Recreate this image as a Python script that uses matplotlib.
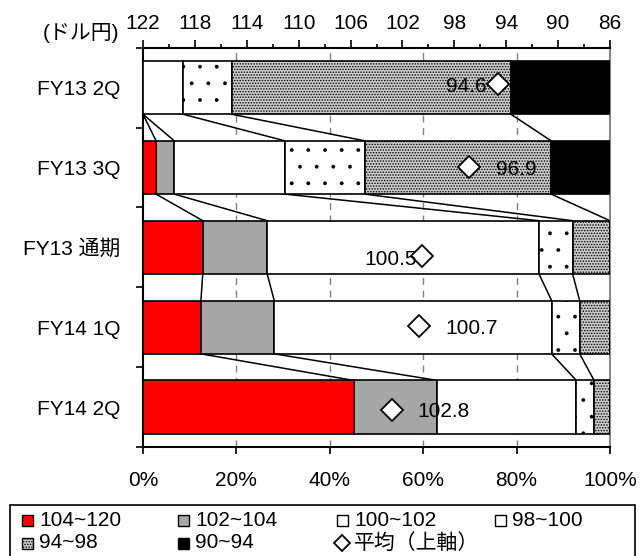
import matplotlib
matplotlib.use('agg')
import numpy as np
from matplotlib import pyplot
from matplotlib.patches import Rectangle
from matplotlib.lines import Line2D

pyplot.rcParams['font.family'] = ['Liberation Sans', 'Noto Sans CJK JP']
pyplot.rcParams['font.size'] = 15
pyplot.rcParams['hatch.linewidth'] = 0.3

# share of each rate band (%), per period
periods = ['FY13 2Q', 'FY13 3Q', 'FY13 通期', 'FY14 1Q', 'FY14 2Q']
bands = ['104~120', '102~104', '100~102', '98~100', '94~98', '90~94']
share_104_120 = [0.0, 2.8, 12.8, 12.4, 45.1]
share_102_104 = [0.0, 3.9, 13.8, 15.7, 17.9]
share_100_102 = [8.6, 23.7, 58.2, 59.4, 29.8]
share_98_100 = [10.4, 17.1, 7.2, 6.0, 3.8]
share_94_98 = [59.8, 39.9, 8.0, 6.5, 3.4]
share_90_94 = [21.2, 12.6, 0.0, 0.0, 0.0]
avg_rate = [94.6, 96.9, 100.5, 100.7, 102.8]
avg_label = ['94.6', '96.9', '100.5', '100.7', '102.8']
usd_ticks = [122, 118, 114, 110, 106, 102, 98, 94, 90, 86]

shares = [share_104_120, share_102_104, share_100_102, share_98_100, share_94_98, share_90_94]
faces = ['#ff0000', '#a6a6a6', 'white', 'white', '#cccccc', 'black']
hatches = [None, None, None, '.', '......', None]
hatch_lw = [0.3, 0.3, 0.3, 0.3, 0.7, 0.3]

# marker / label placement tweaks
avg_dy = [-0.04, 0.0, 0.11, -0.02, 0.04]
lbl_dx = [-8.6, 19.4, -3.6, 18.7, 18.4]
lbl_dy = [-1.2, -1.2, -2.2, -2.4, -1.0]
lbl_ha = ['right', 'left', 'right', 'left', 'left']

fig = pyplot.figure(figsize=(6.4, 5.56), dpi=100)
ax = fig.add_axes([143/640, 1-447/556, 467/640, 399.3/556])

y = np.arange(len(periods))
bar_h = 0.667
left = np.zeros(len(periods))
cums = []
for vals, face, hatch, hlw in zip(shares, faces, hatches, hatch_lw):
  with pyplot.rc_context({'hatch.linewidth': hlw}):
    ax.barh(y, vals, left=left, height=bar_h, color=face, edgecolor='black',
            linewidth=1.2, hatch=hatch, zorder=3)
  left = left + np.array(vals)
  cums.append(left.copy())

# series lines between neighbouring bars
for i in range(len(periods) - 1):
  for c in cums[:-1]:
    ax.plot([c[i], c[i+1]], [y[i] + bar_h/2, y[i+1] - bar_h/2],
            color='black', lw=1.1, zorder=2)

ax.set_xlim(0, 100)
ax.set_ylim(len(periods) - 0.5, -0.5)
ax.set_xticks(range(0, 101, 20))
ax.set_xticklabels(['{0}%'.format(v) for v in range(0, 101, 20)])
ax.set_yticks(y)
ax.set_yticklabels(periods)
ax.set_yticks(np.arange(-0.5, len(periods), 1), minor=True)
ax.tick_params(axis='y', which='major', length=0, pad=16)
ax.tick_params(axis='y', which='minor', length=5, width=1.2, direction='out')
ax.tick_params(axis='x', which='major', length=5, width=1.2, direction='out', pad=12)
for v in range(20, 100, 20):
  ax.axvline(v, color='#808080', lw=1, ls=(0, (5, 4)), zorder=1)
ax.spines['left'].set_linewidth(1.5)
ax.spines['bottom'].set_linewidth(1.5)
ax.spines['right'].set_color('#888888')
ax.spines['right'].set_linewidth(1.5)
ax.spines['top'].set_visible(False)

# upper axis: USD/JPY
ax2 = ax.twiny()
ax2.set_xlim(122, 86)
ax2.set_xticks(usd_ticks)
ax2.set_xticks(range(120, 86, -4), minor=True)
ax2.tick_params(axis='x', which='major', length=6, width=1.2, pad=4.5)
ax2.tick_params(axis='x', which='minor', length=3, width=1.2)
for s in ['left', 'right', 'bottom']:
  ax2.spines[s].set_visible(False)
ax2.spines['top'].set_linewidth(1.5)

for i in range(len(periods)):
  ax2.plot(avg_rate[i], y[i] + avg_dy[i], marker='D', markersize=11,
           markerfacecolor='white', markeredgecolor='black', markeredgewidth=1.3,
           linestyle='none', zorder=5)
  ax2.annotate(avg_label[i], (avg_rate[i], y[i] + avg_dy[i]),
               xytext=(lbl_dx[i], lbl_dy[i]), textcoords='offset points',
               ha=lbl_ha[i], va='center', zorder=6)

fig.text(43/640, 1-33/556, '(ドル円)', ha='left', va='center')

# legend box, laid out by hand in four even columns
W, H = 640.0, 556.0
fig.add_artist(Rectangle((10/W, -0.05), 625/W, 0.05 + 1 - 505/H, transform=fig.transFigure,
                         fill=False, edgecolor='black', linewidth=1.2))
col_x = [27, 183, 342, 500]
row_y = [520, 543]
labels = bands + ['平均（上軸）']
for k, lab in enumerate(labels):
  cx = col_x[k % 4]
  cy = row_y[k // 4]
  if k < len(bands):
    sq = 11.0
    with pyplot.rc_context({'hatch.linewidth': hatch_lw[k]}):
      fig.add_artist(Rectangle(((cx - sq/2)/W, 1 - (cy + sq/2)/H), sq/W, sq/H,
                               transform=fig.transFigure, facecolor=faces[k],
                               edgecolor='black', linewidth=1, hatch=hatches[k]))
  else:
    fig.add_artist(Line2D([cx/W], [1 - cy/H], transform=fig.transFigure, marker='D',
                          markersize=8, markerfacecolor='white', markeredgecolor='black',
                          markeredgewidth=1.3))
  fig.text((cx + 12)/W, 1 - cy/H, lab, ha='left', va='center')

fig.savefig('out.png', dpi=100)
